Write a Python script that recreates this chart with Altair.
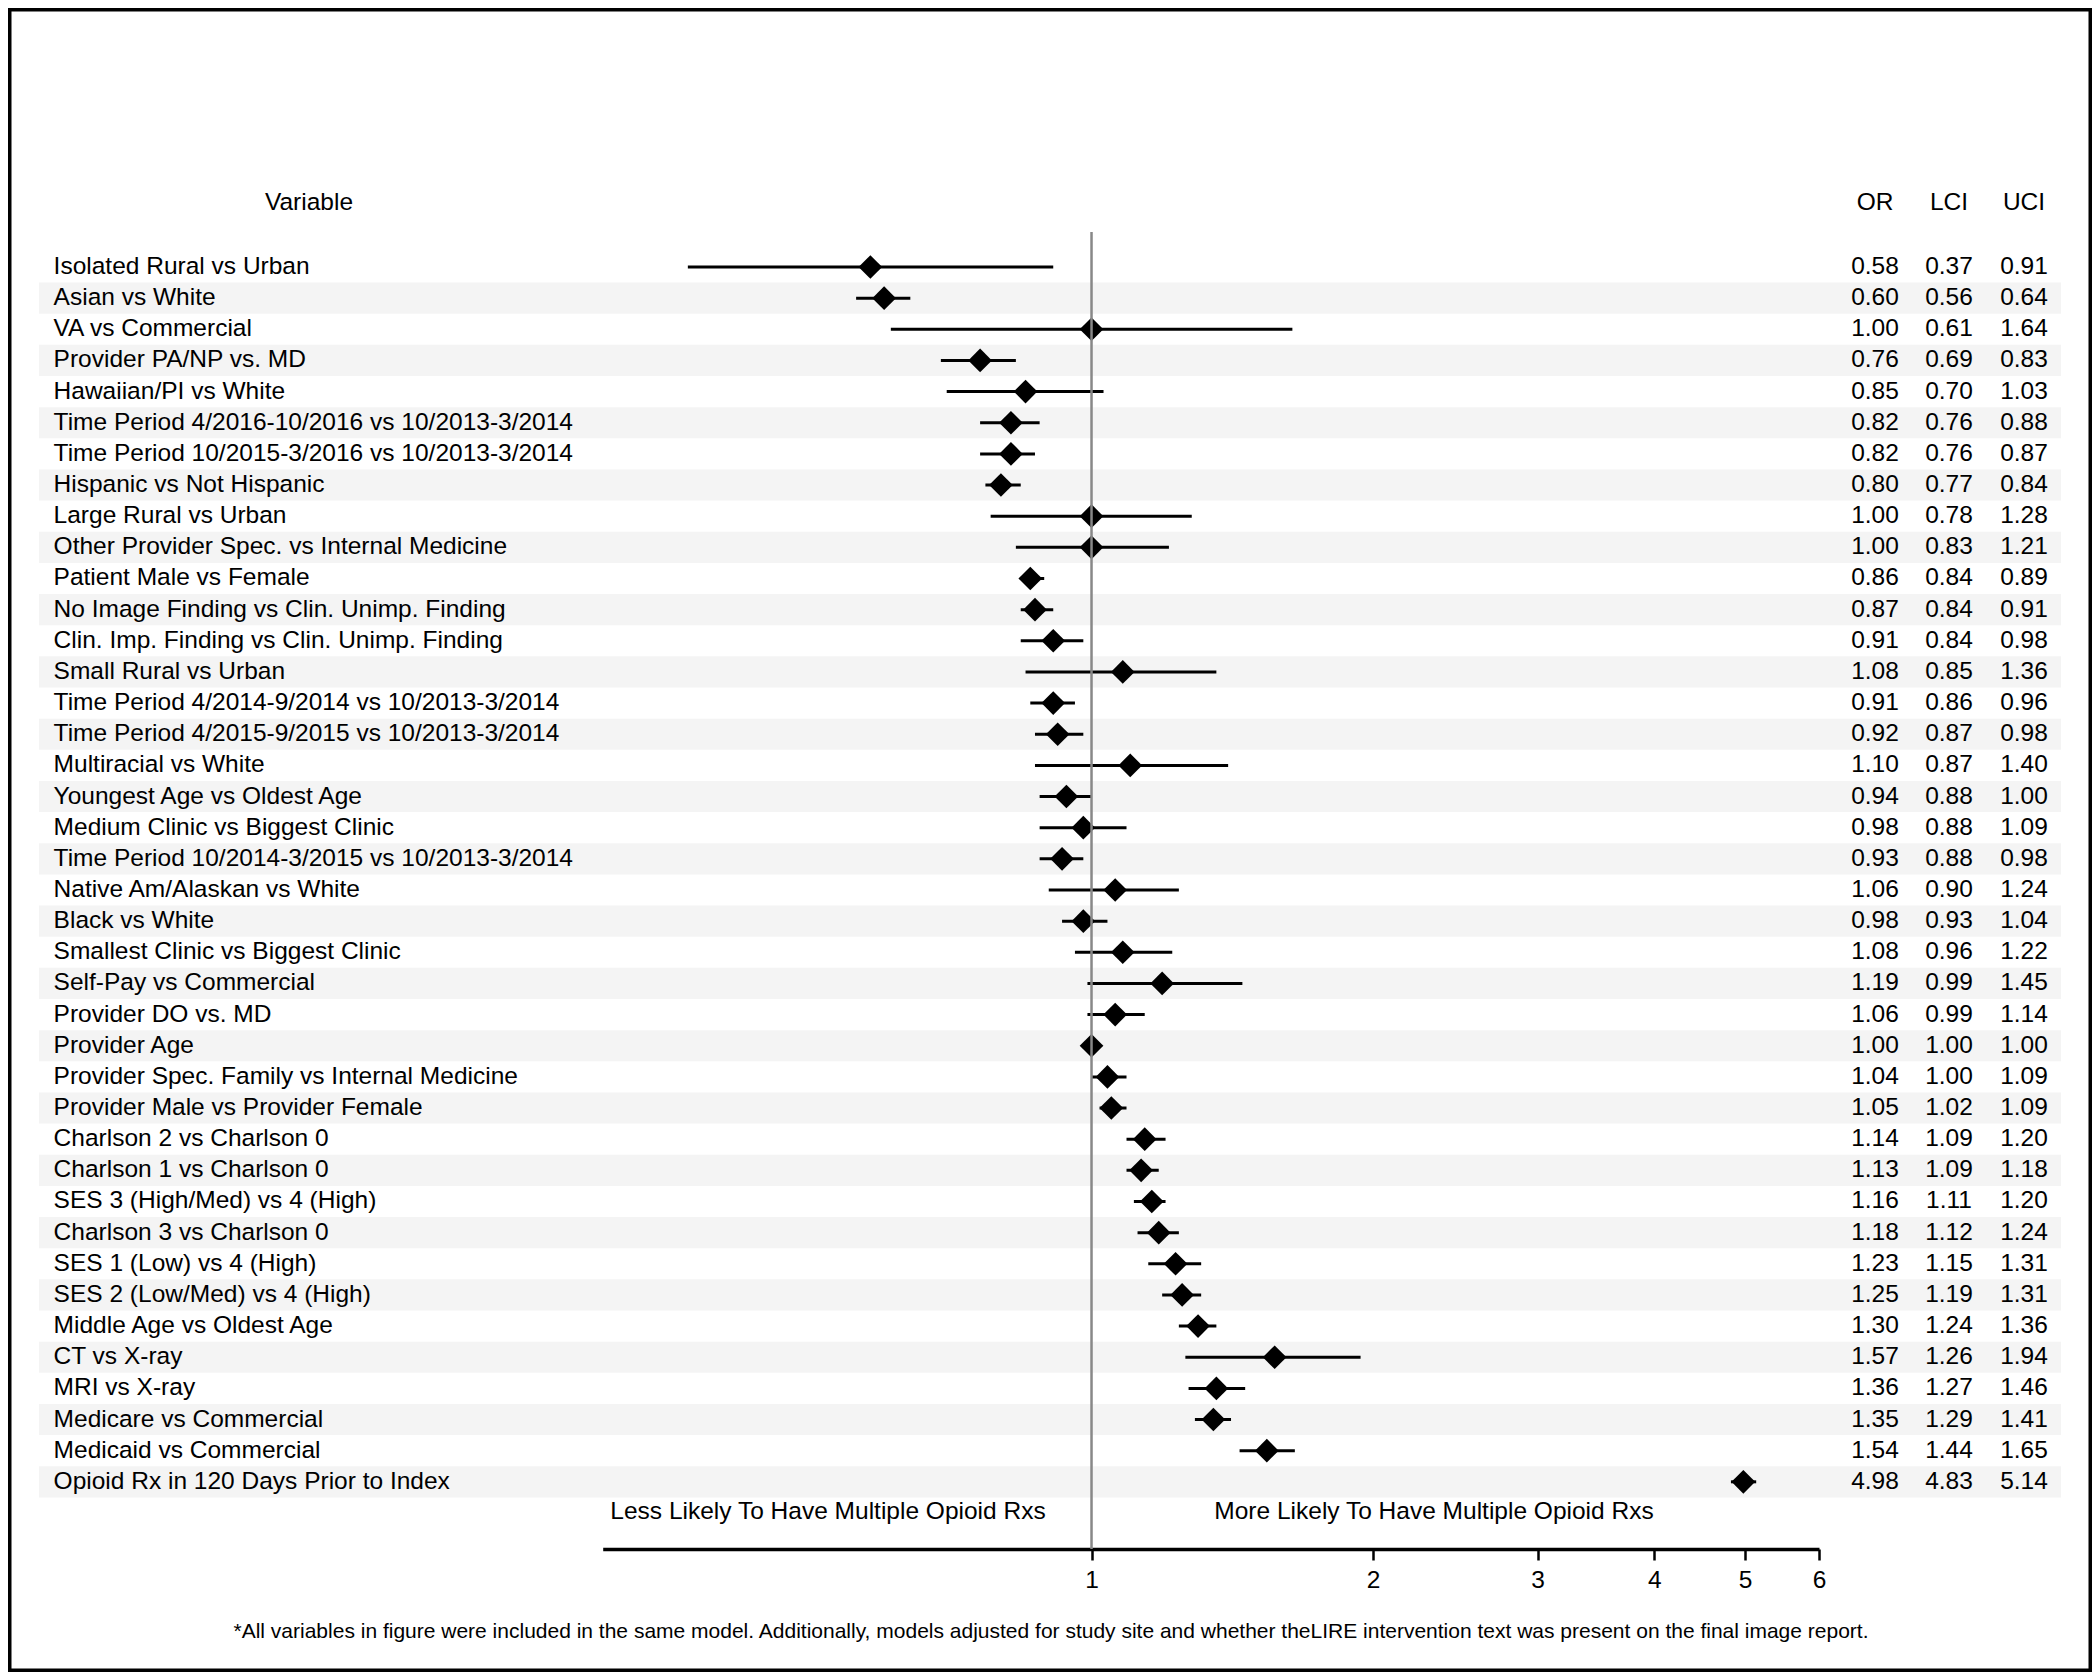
import altair as alt
import pandas as pd

labels = [
    "Isolated Rural vs Urban", "Asian vs White", "VA vs Commercial", "Provider PA/NP vs. MD",
    "Hawaiian/PI vs White", "Time Period 4/2016-10/2016 vs 10/2013-3/2014",
    "Time Period 10/2015-3/2016 vs 10/2013-3/2014", "Hispanic vs Not Hispanic",
    "Large Rural vs Urban", "Other Provider Spec. vs Internal Medicine", "Patient Male vs Female",
    "No Image Finding vs Clin. Unimp. Finding", "Clin. Imp. Finding vs Clin. Unimp. Finding",
    "Small Rural vs Urban", "Time Period 4/2014-9/2014 vs 10/2013-3/2014",
    "Time Period 4/2015-9/2015 vs 10/2013-3/2014", "Multiracial vs White",
    "Youngest Age vs Oldest Age", "Medium Clinic vs Biggest Clinic",
    "Time Period 10/2014-3/2015 vs 10/2013-3/2014", "Native Am/Alaskan vs White",
    "Black vs White", "Smallest Clinic vs Biggest Clinic", "Self-Pay vs Commercial",
    "Provider DO vs. MD", "Provider Age", "Provider Spec. Family vs Internal Medicine",
    "Provider Male vs Provider Female", "Charlson 2 vs Charlson 0", "Charlson 1 vs Charlson 0",
    "SES 3 (High/Med) vs 4 (High)", "Charlson 3 vs Charlson 0", "SES 1 (Low) vs 4 (High)",
    "SES 2 (Low/Med) vs 4 (High)", "Middle Age vs Oldest Age", "CT vs X-ray", "MRI vs X-ray",
    "Medicare vs Commercial", "Medicaid vs Commercial", "Opioid Rx in 120 Days Prior to Index",
]
or_vals = [0.58, 0.60, 1.00, 0.76, 0.85, 0.82, 0.82, 0.80, 1.00, 1.00, 0.86, 0.87, 0.91, 1.08,
           0.91, 0.92, 1.10, 0.94, 0.98, 0.93, 1.06, 0.98, 1.08, 1.19, 1.06, 1.00, 1.04, 1.05,
           1.14, 1.13, 1.16, 1.18, 1.23, 1.25, 1.30, 1.57, 1.36, 1.35, 1.54, 4.98]
lci_vals = [0.37, 0.56, 0.61, 0.69, 0.70, 0.76, 0.76, 0.77, 0.78, 0.83, 0.84, 0.84, 0.84, 0.85,
            0.86, 0.87, 0.87, 0.88, 0.88, 0.88, 0.90, 0.93, 0.96, 0.99, 0.99, 1.00, 1.00, 1.02,
            1.09, 1.09, 1.11, 1.12, 1.15, 1.19, 1.24, 1.26, 1.27, 1.29, 1.44, 4.83]
uci_vals = [0.91, 0.64, 1.64, 0.83, 1.03, 0.88, 0.87, 0.84, 1.28, 1.21, 0.89, 0.91, 0.98, 1.36,
            0.96, 0.98, 1.40, 1.00, 1.09, 0.98, 1.24, 1.04, 1.22, 1.45, 1.14, 1.00, 1.09, 1.09,
            1.20, 1.18, 1.20, 1.24, 1.31, 1.31, 1.36, 1.94, 1.46, 1.41, 1.65, 5.14]
headers = ["Variable", "OR", "LCI", "UCI"]
x_ticks = [1, 2, 3, 4, 5, 6]
x_domain = [0.3, 6]
ref_value = [1]
less_text = ["Less Likely To Have Multiple Opioid Rxs"]
more_text = ["More Likely To Have Multiple Opioid Rxs"]
footnote = ["*All variables in figure were included in the same model. Additionally, models adjusted "
            "for study site and whether theLIRE intervention text was present on the final image report."]

df = pd.DataFrame({"label": labels, "OR": or_vals, "LCI": lci_vals, "UCI": uci_vals})
df["row"] = list(range(len(df)))

# ---- layout (chart coordinates = page coordinates - 8px margin) ----
W, H = 2084, 1664
FONT = "Liberation Sans"
FS = 24.5
header_x = [301, 1867, 1941, 2016]
header_y = 195
num_cols = [("OR", 1867), ("LCI", 1941), ("UCI", 2016)]

xscale = alt.Scale(type="log", domain=x_domain, range=[594.7, 1811], nice=False)
yscale = alt.Scale(domain=labels, range=[243.4, 1489.4], paddingInner=0, paddingOuter=0)

x_axis = alt.Axis(values=x_ticks, title=None, grid=False, offset=-123, domainColor="black",
                  domainWidth=3.5, tickColor="black", tickWidth=2.5, tickSize=11,
                  labelFontSize=24.5, labelColor="black", labelPadding=8, labelFont=FONT,
                  format="d", labelFlush=False, labelOverlap=False)

Y = alt.Y("label:N", scale=yscale, axis=None)
base = alt.Chart(df)

stripes = base.transform_filter("datum.row % 2 == 1").mark_rect(color="#f4f4f4").encode(
    y=Y, x=alt.value(31), x2=alt.value(2053))

errbars = base.mark_rule(color="black", strokeWidth=3).encode(
    x=alt.X("LCI:Q", scale=xscale, axis=x_axis), x2="UCI:Q", y=Y)

diamonds = base.mark_point(shape="diamond", filled=True, size=560, color="black", opacity=1).encode(
    x=alt.X("OR:Q", scale=xscale, axis=x_axis), y=Y)

ref = alt.Chart(pd.DataFrame({"ref": ref_value})).mark_rule(color="#888888", strokeWidth=2.5).encode(
    x=alt.X("ref:Q", scale=xscale, axis=x_axis), y=alt.value(224), y2=alt.value(1541))

label_text = base.mark_text(align="left", baseline="middle", fontSize=FS, font=FONT, color="black").encode(
    x=alt.value(45.6), y=Y, text="label:N")

layers = [stripes, errbars, diamonds, ref, label_text]

for col, xp in num_cols:
    layers.append(base.mark_text(align="center", baseline="middle", fontSize=FS, font=FONT,
                                 color="black").encode(
        x=alt.value(xp), y=Y, text=alt.Text(f"{col}:Q", format=".2f")))

for h, xp in zip(headers, header_x):
    layers.append(alt.Chart(pd.DataFrame({"t": [h]})).mark_text(
        align="center", baseline="middle", fontSize=FS, font=FONT, color="black").encode(
        x=alt.value(xp), y=alt.value(header_y), text="t:N"))

layers.append(alt.Chart(pd.DataFrame({"t": less_text})).mark_text(
    align="center", baseline="middle", fontSize=FS, font=FONT, color="black").encode(
    x=alt.value(820), y=alt.value(1504), text="t:N"))
layers.append(alt.Chart(pd.DataFrame({"t": more_text})).mark_text(
    align="center", baseline="middle", fontSize=FS, font=FONT, color="black").encode(
    x=alt.value(1426), y=alt.value(1504), text="t:N"))
layers.append(alt.Chart(pd.DataFrame({"t": footnote})).mark_text(
    align="center", baseline="middle", fontSize=21, font=FONT, color="black").encode(
    x=alt.value(1043), y=alt.value(1624), text="t:N"))

chart = alt.layer(*layers).properties(
    width=W, height=H, padding=0, autosize=alt.AutoSizeParams(type="none"),
    background="white",
).configure(font=FONT).configure_view(stroke="black", strokeWidth=7)

chart.save("out.html", embed_options={"renderer": "svg", "actions": False})
